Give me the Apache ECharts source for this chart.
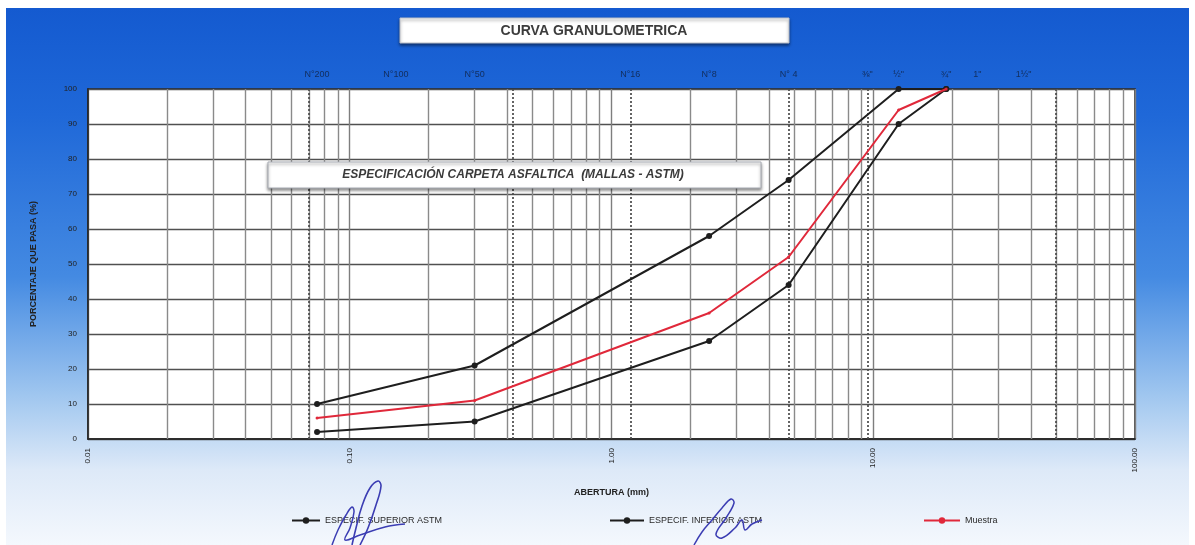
<!DOCTYPE html>
<html>
<head>
<meta charset="utf-8">
<title>Curva Granulométrica</title>
<script src="https://cdn.jsdelivr.net/npm/echarts@6/dist/echarts.min.js"></script>
<style>
  html, body { margin: 0; padding: 0; background: #ffffff; }
  #chart { width: 1195px; height: 545px; }
</style>
</head>
<body>
<div id="chart"></div>
<script>
// Sieve openings (mm) where the curves are sampled
const sieveSizes = [0.075, 0.3, 2.36, 4.75, 12.5, 19];
// Percent passing: ASTM band limits and the tested sample
const upperLimit = [10, 21, 58, 74, 100, 100];
const lowerLimit = [2, 5, 28, 44, 90, 100];
const sample = [6, 11, 36, 52, 94, 100];

// Sieve designations printed above the plot
const topSieveNames = ['N°200', 'N°100', 'N°50', 'N°16', 'N°8', 'N° 4', '⅜"', '½"', '¾"', '1"', '1½"'];
const topSieveSizes = [0.075, 0.15, 0.3, 1.18, 2.36, 4.75, 9.5, 12.5, 19, 25, 37.5];

// Sieves marked with dotted reference lines
const dottedSieves = [0.075, 0.425, 1.18, 4.75, 9.5, 50];

// Axis tick labels
const xTickValues = [0.01, 0.1, 1, 10, 100];
const xTickLabels = ['0.01', '0.10', '1.00', '10.00', '100.00'];

const FONT = '"Liberation Sans", Arial, sans-serif';

// Log-scale minor grid: 2..9 within every decade
const minorGrid = [];
[0.01, 0.1, 1, 10].forEach(d => {
  for (let k = 2; k <= 9; k++) minorGrid.push(+(d * k).toPrecision(3));
});

const chart = echarts.init(document.getElementById('chart'), null, { renderer: 'canvas' });

const option = {
  animation: false,
  textStyle: { fontFamily: FONT },
  graphic: [
    // blue panel behind the chart
    {
      type: 'rect', z: -100, silent: true,
      shape: { x: 6, y: 8, width: 1183, height: 537 },
      style: {
        fill: new echarts.graphic.LinearGradient(0, 0, 0, 1, [
          { offset: 0, color: '#145ad0' },
          { offset: 0.2, color: '#1f68d8' },
          { offset: 0.5, color: '#448ae2' },
          { offset: 0.72, color: '#9fc6ef' },
          { offset: 0.86, color: '#dde9f8' },
          { offset: 1, color: '#f4f8fd' }
        ])
      }
    },
    // title box
    {
      type: 'rect', z: 10, silent: true,
      shape: { x: 400, y: 18, width: 389, height: 25 },
      style: { fill: '#ffffff', stroke: '#b9bec8', lineWidth: 1, shadowBlur: 3, shadowOffsetY: 2, shadowColor: 'rgba(0,0,0,0.45)' }
    },
    {
      type: 'text', z: 11, silent: true, x: 594, y: 31,
      style: { text: 'CURVA GRANULOMETRICA', font: 'bold 14px ' + FONT, fill: '#3c3c3c', align: 'center', verticalAlign: 'middle' }
    },
    // specification box
    {
      type: 'rect', z: 10, silent: true,
      shape: { x: 268, y: 162, width: 493, height: 26 },
      style: { fill: '#ffffff', stroke: '#a8acb4', lineWidth: 1, shadowBlur: 3, shadowOffsetY: 2, shadowColor: 'rgba(0,0,0,0.45)' }
    },
    {
      type: 'text', z: 11, silent: true, x: 513, y: 175,
      style: { text: 'ESPECIFICACIÓN CARPETA ASFALTICA  (MALLAS - ASTM)', font: 'italic bold 12px ' + FONT, fill: '#3a3a3a', align: 'center', verticalAlign: 'middle' }
    },
    // handwritten signatures
    {
      type: 'polyline', z: 20, silent: true,
      shape: { points: [[352, 545], [356, 528], [362, 506], [370, 488], [378, 481], [381, 486], [376, 505], [368, 528], [360, 545]], smooth: 0.4 },
      style: { stroke: '#3b3db3', lineWidth: 1.6, fill: null }
    },
    {
      type: 'polyline', z: 20, silent: true,
      shape: { points: [[332, 545], [338, 530], [346, 515], [352, 507], [354, 512], [350, 528], [345, 540], [360, 535], [385, 527], [405, 524]], smooth: 0.4 },
      style: { stroke: '#3b3db3', lineWidth: 1.5, fill: null }
    },
    {
      type: 'polyline', z: 20, silent: true,
      shape: { points: [[694, 545], [702, 532], [712, 520], [722, 508], [731, 499], [734, 503], [726, 518], [716, 534], [722, 538], [735, 528], [742, 520], [745, 530], [752, 524], [762, 520]], smooth: 0.4 },
      style: { stroke: '#3b3db3', lineWidth: 1.5, fill: null }
    }
  ],
  legend: [
    {
      data: ['ESPECIF. SUPERIOR ASTM'], left: 286, top: 511, itemWidth: 28, itemHeight: 8,
      textStyle: { fontSize: 9, color: '#2a2a2a', fontFamily: FONT }
    },
    {
      data: ['ESPECIF. INFERIOR ASTM'], left: 604, top: 511, itemWidth: 34, itemHeight: 8,
      textStyle: { fontSize: 9, color: '#2a2a2a', fontFamily: FONT }
    },
    {
      data: ['Muestra'], left: 918, top: 511, itemWidth: 36, itemHeight: 8,
      textStyle: { fontSize: 9, color: '#2a2a2a', fontFamily: FONT }
    }
  ],
  grid: {
    left: 88, right: 60, top: 89, bottom: 106,
    show: true, backgroundColor: '#ffffff', borderColor: '#222', borderWidth: 1.5
  },
  xAxis: {
    type: 'log', logBase: 10, min: 0.01, max: 100,
    name: 'ABERTURA (mm)', nameLocation: 'middle', nameGap: 49,
    nameTextStyle: { fontSize: 9, fontWeight: 'bold', color: '#222', fontFamily: FONT },
    axisLine: { show: true, lineStyle: { color: '#222', width: 1.5 } },
    axisTick: { show: false },
    axisLabel: {
      rotate: 90, margin: 9, fontSize: 8, color: '#222', fontFamily: FONT,
      formatter: v => {
        const i = xTickValues.findIndex(t => Math.abs(Math.log10(t) - Math.log10(v)) < 1e-6);
        return i >= 0 ? xTickLabels[i] : '';
      }
    },
    splitLine: { show: true, lineStyle: { color: '#7e7e7e', width: 1.4 } }
  },
  yAxis: {
    type: 'value', min: 0, max: 100, interval: 10,
    name: 'PORCENTAJE QUE PASA (%)', nameLocation: 'middle', nameGap: 50, nameRotate: 90,
    nameTextStyle: { fontSize: 9, fontWeight: 'bold', color: '#222', fontFamily: FONT },
    axisLine: { show: true, lineStyle: { color: '#222', width: 1.5 } },
    axisTick: { show: false },
    axisLabel: { fontSize: 8, color: '#222', margin: 11, fontFamily: FONT },
    splitLine: { show: true, lineStyle: { color: '#505050', width: 1.3 } }
  },
  series: [
    // minor log grid and dotted sieve references
    {
      type: 'line', name: 'grid', data: [], silent: true, z: 1,
      markLine: {
        silent: true, symbol: 'none', animation: false,
        label: { show: false },
        data: minorGrid.map(v => ({ xAxis: v, lineStyle: { color: '#8a8a8a', width: 1.4, type: 'solid' } }))
          .concat(dottedSieves.map(v => ({ xAxis: v, lineStyle: { color: '#4a4a4a', width: 1.7, type: [2, 2] } })))
      }
    },
    // sieve names above the plot
    {
      type: 'scatter', name: 'sieves', silent: true, z: 5, clip: false,
      symbolSize: 1, itemStyle: { color: 'transparent' },
      label: {
        show: true, position: 'top', distance: 9,
        fontSize: 9, color: '#10203f', fontFamily: FONT,
        formatter: p => topSieveNames[p.dataIndex]
      },
      data: topSieveSizes.map(s => [s, 100])
    },
    {
      type: 'line', name: 'ESPECIF. SUPERIOR ASTM', z: 6,
      data: sieveSizes.map((s, i) => [s, upperLimit[i]]),
      symbol: 'circle', symbolSize: 6,
      lineStyle: { color: '#1e1e1e', width: 2 },
      itemStyle: { color: '#1e1e1e' }
    },
    {
      type: 'line', name: 'ESPECIF. INFERIOR ASTM', z: 6,
      data: sieveSizes.map((s, i) => [s, lowerLimit[i]]),
      symbol: 'circle', symbolSize: 6,
      lineStyle: { color: '#1e1e1e', width: 2 },
      itemStyle: { color: '#1e1e1e' }
    },
    {
      type: 'line', name: 'Muestra', z: 7,
      data: sieveSizes.map((s, i) => [s, sample[i]]),
      symbol: 'circle', symbolSize: 3,
      lineStyle: { color: '#e0283a', width: 2 },
      itemStyle: { color: '#e0283a' }
    }
  ]
};

chart.setOption(option);
</script>
</body>
</html>
